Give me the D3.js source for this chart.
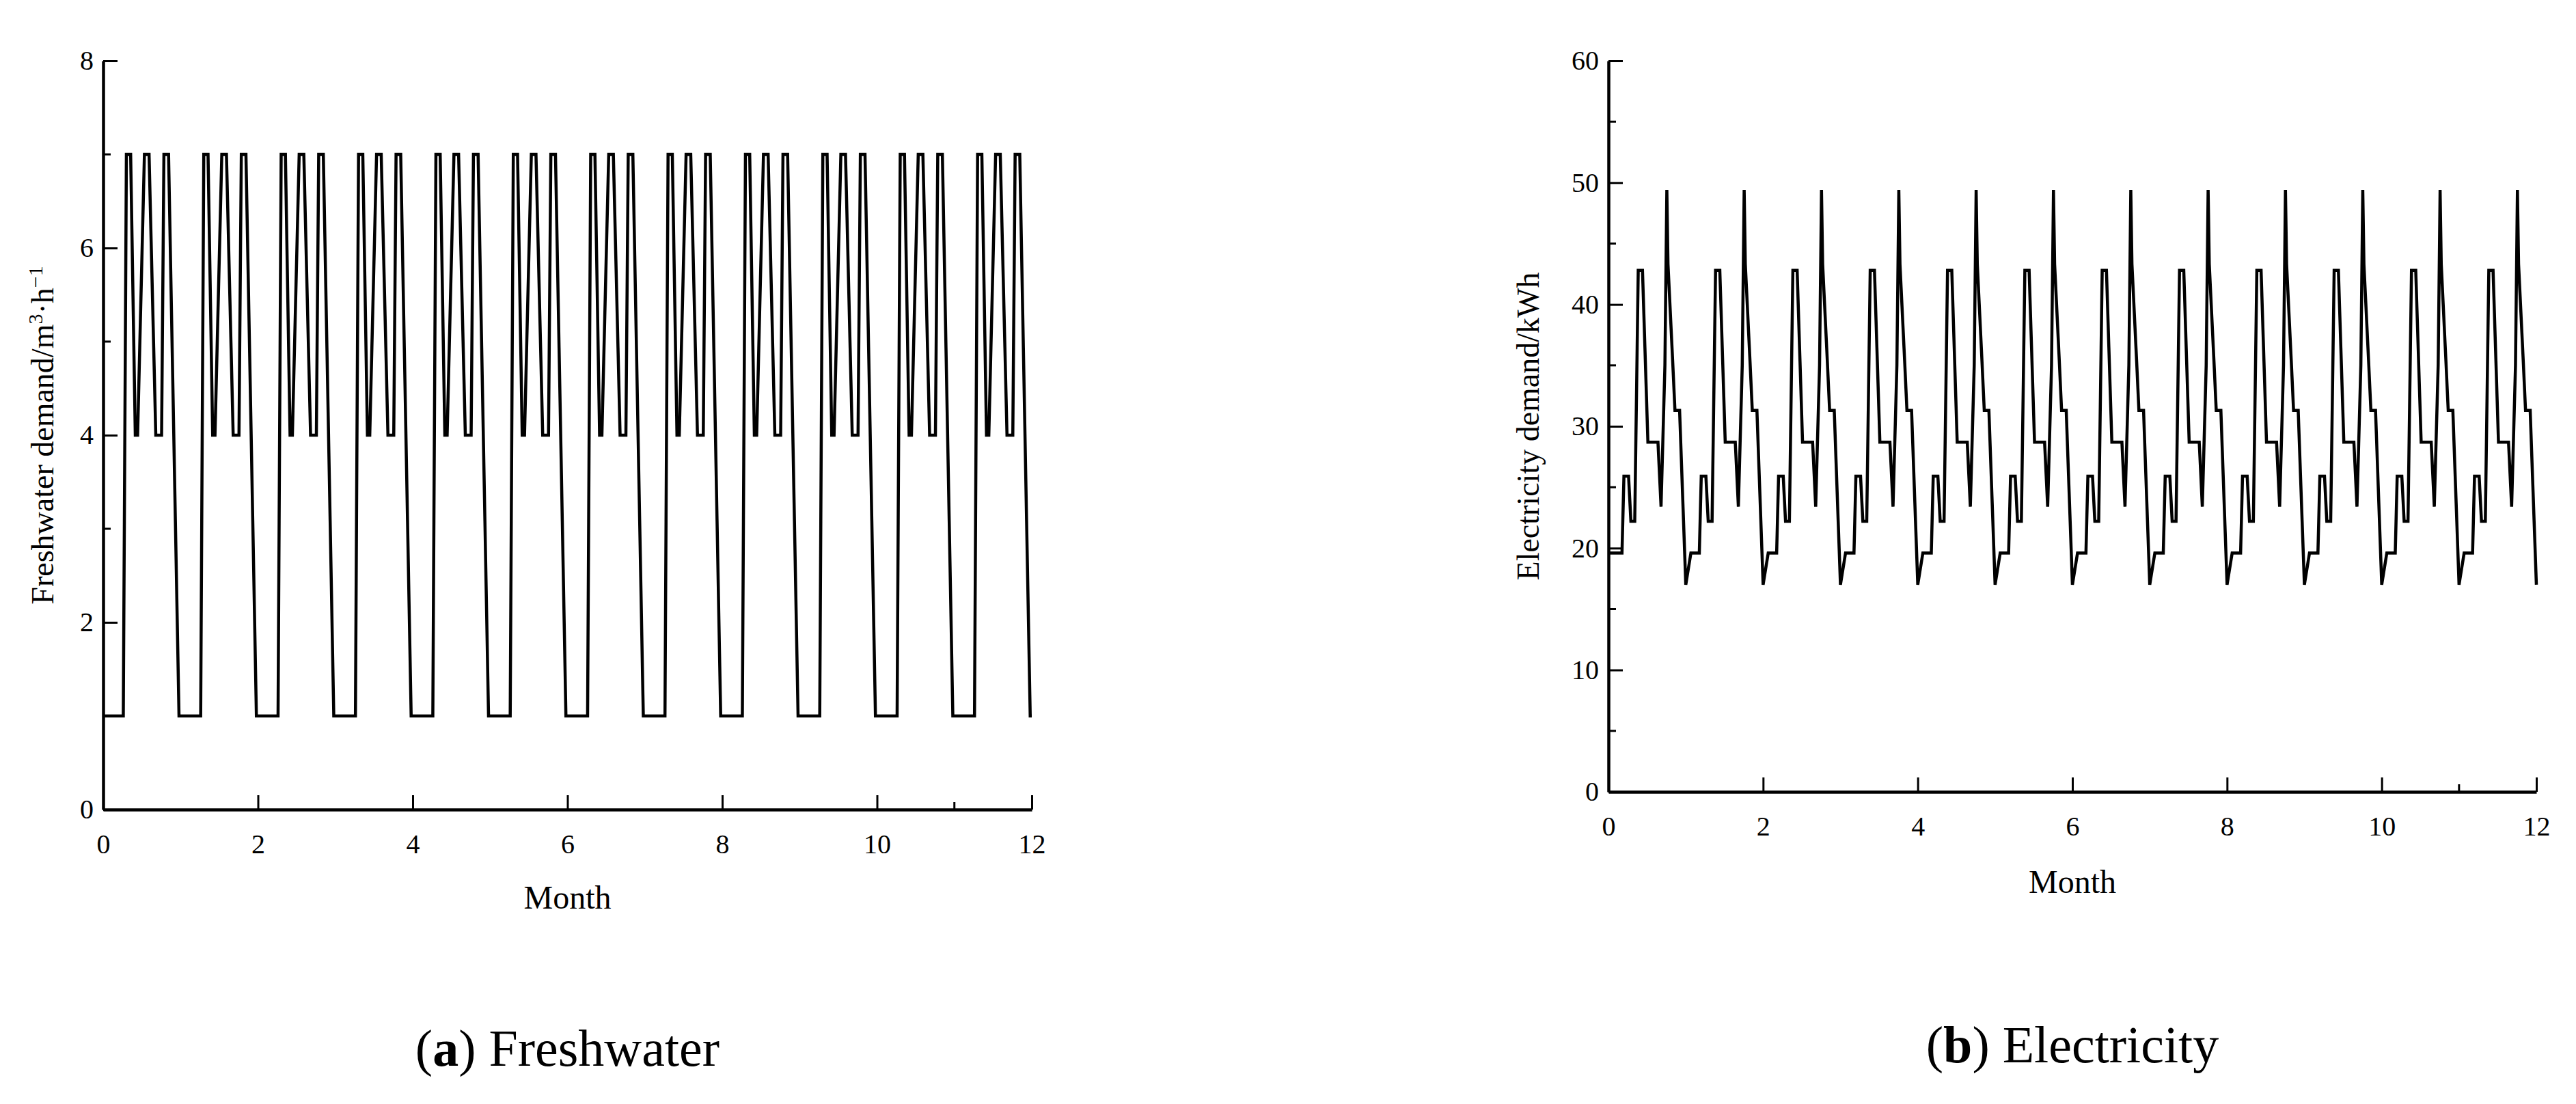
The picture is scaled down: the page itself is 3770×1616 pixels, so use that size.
<!DOCTYPE html>
<html><head><meta charset="utf-8">
<script src="https://cdn.jsdelivr.net/npm/d3@7/dist/d3.min.js"></script>
<style>body{margin:0;background:#fff}text{font-family:"Liberation Serif","DejaVu Serif",serif;fill:#000}</style>
</head><body><svg id="c" width="3770" height="1616"></svg>
<script>
const months = d3.range(0, 12);
const monthTicks = [0, 2, 4, 6, 8, 10, 12];
// Freshwater: one monthly cycle (fraction of month, value)
const fwCycleT = [0.26, 0.30, 0.355, 0.415, 0.445, 0.533, 0.593, 0.68, 0.755, 0.785, 0.845, 0.98];
const fwCycleV = [1, 7, 7, 4, 4, 7, 7, 4, 4, 7, 7, 1];
const fwTicks = [0, 2, 4, 6, 8];
// Electricity: one monthly cycle
const elCycleT = [0.066, 0.175, 0.20, 0.26, 0.29, 0.34, 0.385, 0.44, 0.51, 0.64, 0.68, 0.73, 0.755, 0.77, 0.83, 0.86, 0.92, 1.0];
const elCycleV = [19.6, 19.6, 25.9, 25.9, 22.2, 22.2, 42.8, 42.8, 28.7, 28.7, 23.4, 35, 49.4, 43.3, 35.4, 31.3, 31.3, 17];
const elTicks = [0, 10, 20, 30, 40, 50, 60];

function build(T, V, start, end) {
  const pts = [[0, start]];
  months.forEach(m => T.forEach((t, i) => pts.push([m + t, V[i]])));
  if (pts[pts.length-1][0] < 12) pts.push([12, end]);
  return pts;
}
const fwData = build(fwCycleT, fwCycleV, 1, 1);
const elData = build(elCycleT, elCycleV, 19.6, 17);

const svg = d3.select("#c");
function panel(o) {
  const x = d3.scaleLinear().domain([0, 12]).range([o.x0, o.x1]);
  const y = d3.scaleLinear().domain([0, o.ymax]).range([o.y0, o.y1]);
  const g = svg.append("g");
  // minor ticks
  g.selectAll(".my").data(o.minorY).enter().append("line")
    .attr("x1", o.x0).attr("x2", o.x0 + 11).attr("y1", d => y(d)).attr("y2", d => y(d))
    .attr("stroke", "#000").attr("stroke-width", 3);
  g.append("line").attr("x1", x(11)).attr("x2", x(11)).attr("y1", o.y0).attr("y2", o.y0 - 11)
    .attr("stroke", "#000").attr("stroke-width", 3);
  const ax = g.append("g").attr("transform", `translate(0,${o.y0})`)
    .call(d3.axisBottom(x).tickValues(monthTicks).tickSizeInner(-21).tickSizeOuter(0).tickPadding(36));
  const ay = g.append("g").attr("transform", `translate(${o.x0},0)`)
    .call(d3.axisLeft(y).tickValues(o.ticks).tickSizeInner(-21).tickSizeOuter(0).tickPadding(14));
  [ax, ay].forEach(a => {
    a.select(".domain").attr("stroke-width", 4.5);
    a.selectAll(".tick line").attr("stroke-width", 3);
    a.selectAll("text").style("font-size", "40px").style("font-family", '"Liberation Serif",serif');
  });
  g.append("path").datum(o.data).attr("fill", "none").attr("stroke", "#000").attr("stroke-width", 4.5)
    .attr("stroke-linejoin", "miter").attr("d", d3.line().x(d => x(d[0])).y(d => y(d[1])));
  g.append("text").attr("x", (o.x0 + o.x1) / 2).attr("y", o.monthY).attr("text-anchor", "middle")
    .style("font-size", "48px").text("Month");
  const yl = g.append("text").attr("transform", `translate(${o.ylX},${(o.y0 + o.y1) / 2}) rotate(-90)`)
    .attr("text-anchor", "middle").style("font-size", "46px");
  o.ylab(yl);
  const cap = g.append("text").attr("x", (o.x0 + o.x1) / 2).attr("y", o.capY).attr("text-anchor", "middle")
    .style("font-size", "76px");
  cap.append("tspan").text("(");
  cap.append("tspan").style("font-weight", "bold").text(o.letter);
  cap.append("tspan").text(") " + o.cap);
}
panel({x0: 151, x1: 1510, y0: 1185, y1: 89, ymax: 8, ticks: fwTicks, minorY: [1, 3, 5, 7], data: fwData,
  monthY: 1330, capY: 1560, ylX: 78, letter: "a", cap: "Freshwater",
  ylab: t => { t.append("tspan").text("Freshwater demand/m");
    t.append("tspan").attr("dy", -16).style("font-size", "30px").text("3");
    t.append("tspan").attr("dy", 16).text("·h");
    t.append("tspan").attr("dy", -16).style("font-size", "30px").text("−1"); }});
panel({x0: 2354, x1: 3712, y0: 1159, y1: 89, ymax: 60, ticks: elTicks, minorY: [5, 15, 25, 35, 45, 55], data: elData,
  monthY: 1307, capY: 1555, ylX: 2252, letter: "b", cap: "Electricity",
  ylab: t => t.text("Electricity demand/kWh")});
</script></body></html>
